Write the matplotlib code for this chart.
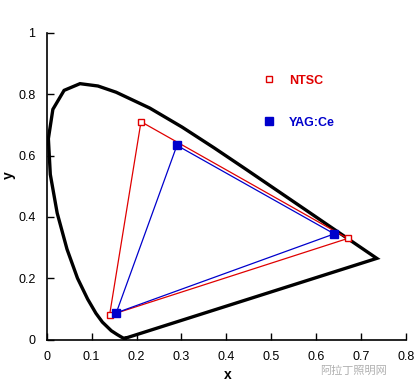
#!/usr/bin/env python3
"""CIE 1931 chromaticity diagram with NTSC and YAG:Ce gamut triangles."""

import matplotlib
matplotlib.use("Agg")
import matplotlib.pyplot as plt
from matplotlib.lines import Line2D

plt.rcParams["font.family"] = ["Liberation Sans", "DejaVu Sans"]

# Spectral locus (CIE 1931 2 deg), closed by the line of purples
locus_x = [0.1741, 0.1714, 0.1644, 0.1566, 0.1440, 0.1241, 0.1096, 0.0913,
           0.0687, 0.0454, 0.0235, 0.0082, 0.0039, 0.0139, 0.0389, 0.0743,
           0.1142, 0.1547, 0.2296, 0.3016, 0.3731, 0.4441, 0.5125, 0.5752,
           0.6270, 0.6658, 0.6915, 0.7190, 0.7347, 0.1741]
locus_y = [0.0050, 0.0051, 0.0109, 0.0177, 0.0297, 0.0578, 0.0868, 0.1327,
           0.2007, 0.2950, 0.4127, 0.5384, 0.6548, 0.7502, 0.8120, 0.8338,
           0.8262, 0.8059, 0.7543, 0.6923, 0.6245, 0.5547, 0.4866, 0.4242,
           0.3725, 0.3340, 0.3083, 0.2809, 0.2653, 0.0050]

# Gamut triangles (R, G, B, back to R)
ntsc_x = [0.67, 0.21, 0.14, 0.67]
ntsc_y = [0.33, 0.71, 0.08, 0.33]
yag_x = [0.64, 0.29, 0.155, 0.64]
yag_y = [0.345, 0.633, 0.088, 0.345]

x_ticks = [0, 0.1, 0.2, 0.3, 0.4, 0.5, 0.6, 0.7, 0.8]
x_labels = ["0", "0.1", "0.2", "0.3", "0.4", "0.5", "0.6", "0.7", "0.8"]
y_ticks = [0, 0.2, 0.4, 0.6, 0.8, 1.0]
y_labels = ["0", "0.2", "0.4", "0.6", "0.8", "1"]

RED = "#e00000"
BLUE = "#0000cc"

fig = plt.figure(figsize=(4.2, 3.88), dpi=100)
ax = fig.add_axes([0.111, 0.124, 0.856, 0.792])

ax.plot(locus_x, locus_y, color="black", linewidth=2.4, solid_joinstyle="miter")

ax.plot(ntsc_x, ntsc_y, color=RED, linewidth=0.9)
ax.plot(ntsc_x[:3], ntsc_y[:3], linestyle="none", marker="s", markersize=5,
        markerfacecolor="white", markeredgecolor=RED, markeredgewidth=1.0)

ax.plot(yag_x, yag_y, color=BLUE, linewidth=0.9)
ax.plot(yag_x[:3], yag_y[:3], linestyle="none", marker="s", markersize=6,
        color=BLUE)

ax.set_xlim(0, 0.8)
ax.set_ylim(0, 1)
ax.set_xticks(x_ticks, x_labels)
ax.set_yticks(y_ticks, y_labels)
ax.tick_params(direction="in", length=5, width=1, labelsize=9, pad=8)
ax.spines["top"].set_visible(False)
ax.spines["right"].set_visible(False)
ax.spines["left"].set_linewidth(1.2)
ax.spines["bottom"].set_linewidth(1.2)

ax.set_xlabel("x", fontsize=10, fontweight="bold")
ax.set_ylabel("y", fontsize=10, fontweight="bold")
ax.xaxis.set_label_coords(0.505, -0.09)
ax.yaxis.set_label_coords(-0.085, 0.535)

handles = [
    Line2D([], [], linestyle="none", marker="s", markersize=5,
           markerfacecolor="white", markeredgecolor=RED),
    Line2D([], [], linestyle="none", marker="s", markersize=6, color=BLUE),
]
leg = ax.legend(handles, ["NTSC", "YAG:Ce"], loc="upper left",
                bbox_to_anchor=(0.567, 0.9), frameon=False,
                labelspacing=2.4, handletextpad=1.0, handlelength=1.2,
                prop={"size": 9, "weight": "bold"})
for txt, col in zip(leg.get_texts(), [RED, BLUE]):
    txt.set_color(col)

# Watermark
fig.text(0.92, 0.045, "阿拉丁照明网", color="#b0b0b0", fontsize=8,
         ha="right", va="center",
         family=["Noto Sans CJK SC", "DejaVu Sans"])

fig.savefig("out.png", dpi=100)
